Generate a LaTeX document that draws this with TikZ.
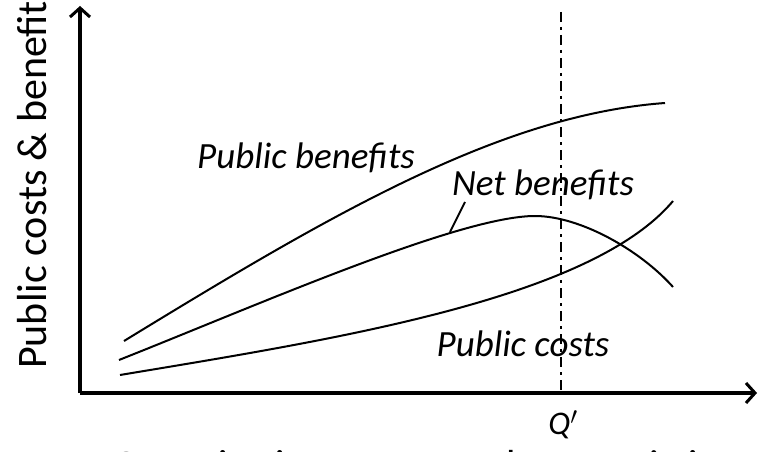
\documentclass[tikz,border=0pt]{standalone}
\usepackage{fontspec}
\setmainfont{Carlito}
\usetikzlibrary{arrows.meta}
\begin{document}
\begin{tikzpicture}[x=1pt,y=-1pt,
  axis/.style={line width=4pt, -{Straight Barb[length=9pt,width=20pt,line width=3pt]}},
  curve/.style={line width=2pt, line join=round},
  curvelabel/.style={font=\fontsize{37}{42}\selectfont\itshape, inner sep=0pt, anchor=base},
  axislabel/.style={font=\fontsize{42}{50}\selectfont, inner sep=0pt, anchor=base},
  qline/.style={line width=2pt, dash pattern=on 10pt off 5pt on 3pt off 5pt}]
\useasboundingbox (0,0) rectangle (761,452);
% axes
\coordinate (O) at (80,393);
\coordinate (ytop) at (80,6);
\coordinate (xend) at (757,393);
\draw[axis] (O) -- (ytop);
\draw[axis] (O) -- (xend);
% Q' line
\coordinate (qtop) at (561,12);
\coordinate (qbot) at (561,393);
\draw[qline] (qtop) -- (qbot);
% curves
\draw[curve] (124,341) .. controls (330,215) and (500,115) .. (665,103);
\draw[curve] (119,360) .. controls (260,304) and (460,216) .. (535,216)
                       .. controls (580,216) and (640,250) .. (673,287);
\draw[curve] (120,375) .. controls (330,340) and (590,300) .. (673,201);
% labels
\node[curvelabel] (pb) at (306,168) {Public benefits};
\node[curvelabel] (nb) at (543,195) {Net benefits};
\node[curvelabel] (pc) at (523,356) {Public costs};
\coordinate (nbfoot) at (450,232);
\coordinate (nbtop) at (465,202);
\draw[line width=2pt] (nbfoot) -- (nbtop);
\node[font=\fontsize{33}{36}\selectfont, inner sep=0pt, anchor=base] (q) at (563,434) {\textit{Q}$^{\prime}$};
\node[axislabel] (xl) at (414,479) {Quantitative program characteristic};
\node[axislabel, rotate=90, anchor=base west] (yl) at (46,369) {Public costs \& benefits};
\end{tikzpicture}
\end{document}
